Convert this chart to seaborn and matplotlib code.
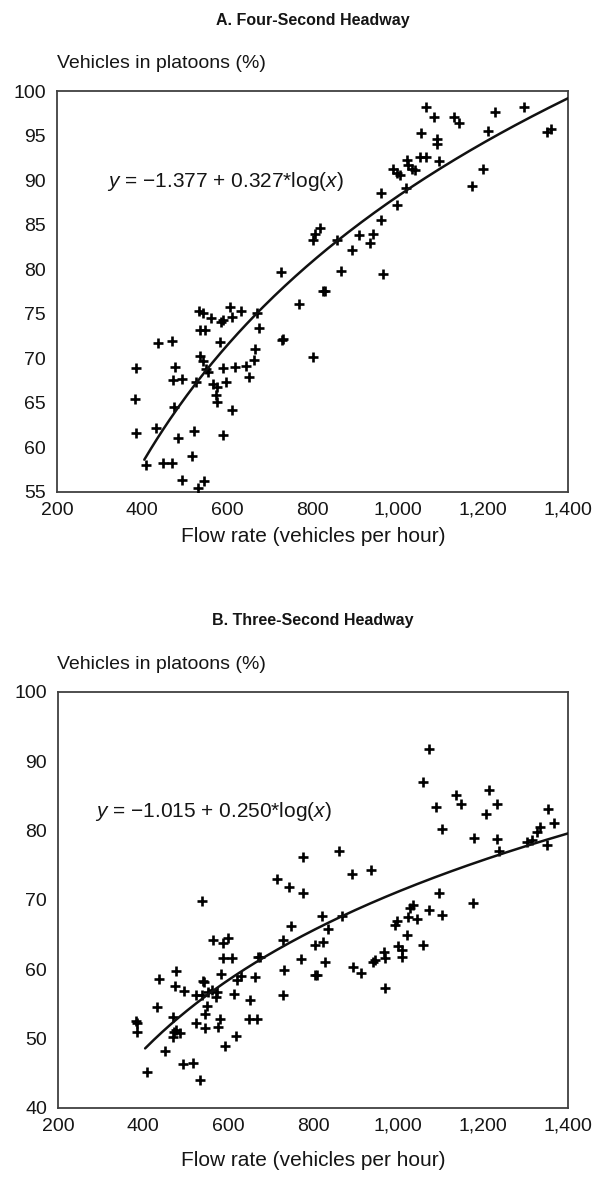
import numpy as np
import pandas as pd
import matplotlib
matplotlib.use("Agg")
import matplotlib.pyplot as plt
import seaborn as sns

# ---------------- data ----------------
flow_a = [385, 383, 385, 410, 432, 438, 469, 477, 472, 493, 475, 483, 450, 470, 517, 493,
          522, 532, 546, 526, 534, 542, 536, 548, 536, 542, 551, 555, 562, 584, 589, 583,
          589, 567, 576, 598, 573, 575, 612, 589, 606, 611, 631, 619, 645, 663, 666, 651,
          670, 674, 728, 731, 769, 802, 824, 829, 726, 806, 802, 817, 857, 910, 943, 935,
          892, 866, 965, 961, 962, 998, 1019, 988, 998, 1005, 1025, 1033, 1041, 1022, 1052,
          1066, 1098, 1054, 1093, 1092, 1066, 1085, 1133, 1145, 1228, 1296, 1213, 1350,
          1359, 1201, 1174]
pct_a = [68.9, 65.4, 61.6, 58.0, 62.2, 71.75, 71.9, 69.0, 67.6, 67.7, 64.5, 61.05, 58.3,
         58.2, 59.0, 56.3, 61.8, 55.4, 56.2, 67.4, 75.3, 75.05, 73.2, 73.2, 70.3, 69.7,
         68.8, 68.5, 74.55, 74.1, 74.3, 71.8, 68.9, 67.1, 66.8, 67.3, 65.9, 65.1, 64.2,
         61.4, 75.8, 74.6, 75.3, 69.0, 69.1, 69.8, 71.1, 67.9, 75.05, 73.4, 72.05, 72.2,
         76.1, 70.1, 77.6, 77.6, 79.7, 84.0, 83.3, 84.6, 83.3, 83.8, 83.95, 82.9, 82.15,
         79.8, 79.5, 85.5, 88.5, 87.2, 89.1, 91.2, 90.8, 90.6, 91.7, 91.3, 91.1, 92.25,
         92.6, 92.6, 92.2, 95.25, 94.6, 94.1, 98.2, 97.05, 97.05, 96.4, 97.6, 98.2, 95.5,
         95.4, 95.7, 91.2, 89.3]

flow_b = [384, 387, 387, 410, 452, 434, 438, 478, 475, 497, 471, 473, 478, 487, 471, 493,
          518, 533, 538, 525, 538, 541, 544, 554, 562, 573, 572, 551, 546, 525, 546, 577,
          581, 593, 618, 565, 589, 599, 588, 609, 583, 613, 621, 630, 652, 650, 668, 664,
          671, 675, 729, 748, 732, 729, 772, 716, 744, 776, 805, 805, 809, 777, 860, 891,
          936, 821, 868, 836, 824, 828, 895, 912, 942, 946, 967, 969, 969, 993, 997, 1001,
          1009, 1009, 1021, 1024, 1028, 1036, 1044, 1058, 1074, 1097, 1103, 1176, 1074,
          1058, 1089, 1103, 1137, 1148, 1215, 1234, 1206, 1179, 1234, 1238, 1303, 1315,
          1326, 1333, 1354, 1367, 1350]
pct_b = [52.6, 52.2, 51.0, 45.2, 48.2, 54.6, 58.6, 59.8, 57.6, 56.9, 53.1, 51.0, 51.2,
         50.8, 50.3, 46.4, 46.5, 44.1, 69.9, 56.3, 56.3, 58.3, 58.2, 56.8, 57.0, 56.8,
         56.0, 54.7, 53.6, 52.3, 51.5, 51.7, 52.9, 49.0, 50.4, 64.2, 63.8, 64.5, 61.6,
         61.6, 59.3, 56.5, 58.5, 59.0, 55.6, 52.8, 52.9, 58.9, 61.8, 61.8, 64.3, 66.2,
         59.9, 56.3, 61.5, 73.1, 71.9, 71.0, 63.5, 59.2, 59.2, 76.2, 77.1, 73.8, 74.3,
         67.7, 67.7, 65.8, 64.0, 61.1, 60.3, 59.4, 61.1, 61.3, 62.5, 61.7, 57.3, 66.4,
         67.0, 63.3, 62.8, 61.8, 64.9, 67.5, 68.8, 69.3, 67.2, 63.5, 68.5, 71.0, 67.8,
         69.5, 91.8, 87.0, 83.4, 80.2, 85.1, 83.9, 85.8, 83.8, 82.4, 78.9, 78.8, 77.0,
         78.3, 78.6, 79.8, 80.5, 83.1, 81.1, 77.9]

# fitted curves: y = a + b*log(x)  (as fraction)
coef_a = [-1.377, 0.327]
coef_b = [-1.015, 0.250]
fit_range = [405, 1400]

titles = ["A. Four-Second Headway", "B. Three-Second Headway"]
eq_labels = ["$\\mathit{y}$ = \u22121.377 + 0.327*log($\\mathit{x}$)",
             "$\\mathit{y}$ = \u22121.015 + 0.250*log($\\mathit{x}$)"]
x_ticks = [200, 400, 600, 800, 1000, 1200, 1400]
x_tick_labels = ["200", "400", "600", "800", "1,000", "1,200", "1,400"]
y_ticks_a = [55, 60, 65, 70, 75, 80, 85, 90, 95, 100]
y_ticks_b = [40, 50, 60, 70, 80, 90, 100]

# ---------------- style ----------------
sns.set_style("white")
plt.rcParams['font.family'] = ['Liberation Sans', 'DejaVu Sans']
plt.rcParams['mathtext.fontset'] = 'custom'
plt.rcParams['mathtext.rm'] = 'Liberation Sans'
plt.rcParams['mathtext.it'] = 'Liberation Sans:italic'

W, H = 599, 1181
fig = plt.figure(figsize=(W / 100, H / 100), dpi=100)

def ax_rect(l, r, t, b):
    return [l / W, 1 - b / H, (r - l) / W, (b - t) / H]

ax_a = fig.add_axes(ax_rect(57, 568, 91, 492))
ax_b = fig.add_axes(ax_rect(58, 568, 692, 1108))

spine_col = "#404040"
txt_col = "#151515"
panels = [
    (ax_a, flow_a, pct_a, coef_a, y_ticks_a, (55, 100), eq_labels[0], (317, 89.9)),
    (ax_b, flow_b, pct_b, coef_b, y_ticks_b, (40, 100), eq_labels[1], (287, 82.7)),
]

for ax, fx, py, coef, yt, ylim, eq, eqpos in panels:
    df = pd.DataFrame({"flow": fx, "pct": py})
    sns.scatterplot(data=df, x="flow", y="pct", marker="+", s=44, color="black",
                    linewidth=1.9, ax=ax, zorder=3)
    xs = np.linspace(fit_range[0], fit_range[1], 200)
    ys = (coef[0] + coef[1] * np.log(xs)) * 100
    sns.lineplot(x=xs, y=ys, color="#111111", linewidth=1.8, ax=ax, zorder=4)
    ax.set_xlim(200, 1400)
    ax.set_ylim(*ylim)
    ax.set_xticks(x_ticks)
    ax.set_xticklabels(x_tick_labels)
    ax.set_yticks(yt)
    ax.tick_params(axis="both", direction="in", length=7, width=1.2,
                   color=spine_col, labelsize=14, labelcolor=txt_col)
    ax.tick_params(axis="x", pad=7)
    ax.tick_params(axis="y", pad=8)
    for s in ax.spines.values():
        s.set_visible(True)
        s.set_color(spine_col)
        s.set_linewidth(1.3)
    ax.set_xlabel("")
    ax.set_ylabel("")
    ax.text(eqpos[0], eqpos[1], eq, fontsize=15, ha="left", va="center",
            color=txt_col)

# titles and axis labels
fig.text(313 / W, 1 - 20 / H, titles[0], ha="center", va="center",
         fontsize=11.5, fontweight="bold", color=txt_col)
fig.text(313 / W, 1 - 620 / H, titles[1], ha="center", va="center",
         fontsize=11.5, fontweight="bold", color=txt_col)
fig.text(57 / W, 1 - 64 / H, "Vehicles in platoons (%)", ha="left", va="center",
         fontsize=14, color=txt_col)
fig.text(57 / W, 1 - 664 / H, "Vehicles in platoons (%)", ha="left", va="center",
         fontsize=14, color=txt_col)
fig.text(313 / W, 1 - 536 / H, "Flow rate (vehicles per hour)", ha="center",
         va="center", fontsize=15, color=txt_col)
fig.text(313 / W, 1 - 1161 / H, "Flow rate (vehicles per hour)", ha="center",
         va="center", fontsize=15, color=txt_col)

fig.savefig("out.png", dpi=100, facecolor="white")
